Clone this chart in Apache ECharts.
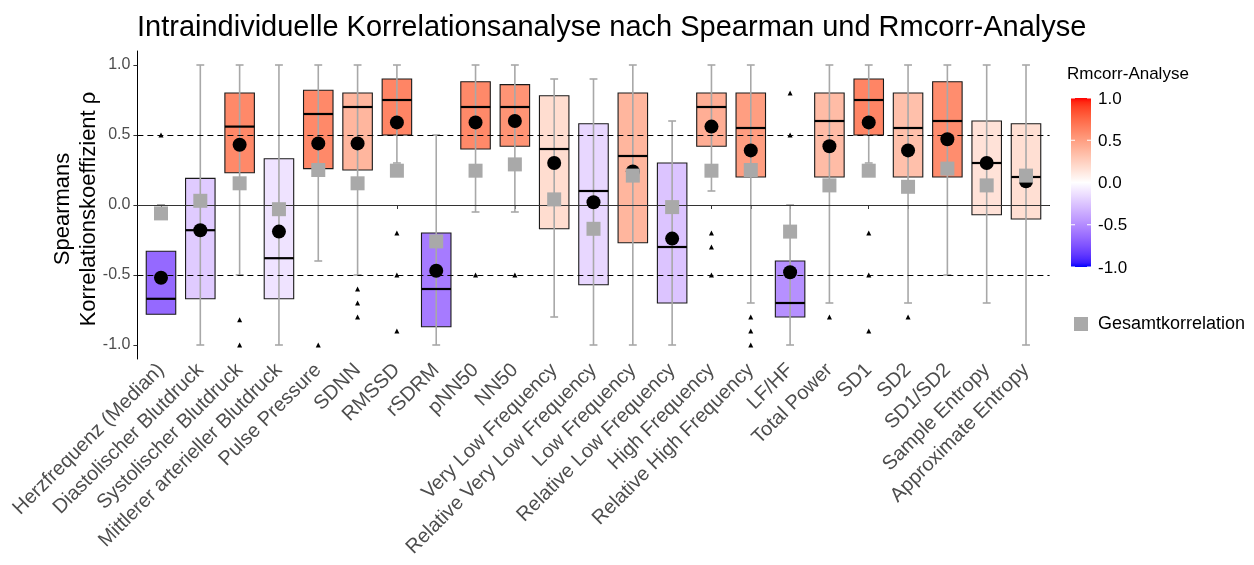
<!DOCTYPE html>
<html><head><meta charset="utf-8">
<script src="https://cdn.jsdelivr.net/npm/echarts@6/dist/echarts.min.js"></script>
<style>html,body{margin:0;padding:0;background:#fff}#c{width:1254px;height:565px}</style>
</head><body><div id="c"></div>
<script>
const categories = ["Herzfrequenz (Median)","Diastolischer Blutdruck","Systolischer Blutdruck","Mittlerer arterieller Blutdruck","Pulse Pressure","SDNN","RMSSD","rSDRM","pNN50","NN50","Very Low Frequency","Relative Very Low Frequency","Low Frequency","Relative Low Frequency","High Frequency","Relative High Frequency","LF/HF","Total Power","SD1","SD2","SD1/SD2","Sample Entropy","Approximate Entropy"];
const whiskerLow  = [0.0,-1.0,-0.5,-1.0,-0.4,-0.5,0.3,-1.0,-0.05,-0.05,-0.8,-1.0,-1.0,-1.0,0.1,-0.7,-1.0,-0.7,0.3,-0.7,-0.5,-0.7,-1.0];
const q1          = [-0.78,-0.67,0.23,-0.67,0.26,0.25,0.5,-0.87,0.4,0.42,-0.17,-0.57,-0.27,-0.7,0.42,0.2,-0.8,0.2,0.5,0.2,0.2,-0.07,-0.1];
const medians     = [-0.67,-0.18,0.56,-0.38,0.65,0.7,0.75,-0.6,0.7,0.7,0.4,0.1,0.35,-0.3,0.7,0.55,-0.7,0.6,0.75,0.55,0.6,0.3,0.2];
const q3          = [-0.33,0.19,0.8,0.33,0.82,0.8,0.9,-0.2,0.88,0.86,0.78,0.58,0.8,0.3,0.8,0.8,-0.4,0.8,0.9,0.8,0.88,0.6,0.58];
const whiskerHigh = [0.0,1,1,1,1,1,1,0.5,1,1,0.9,0.9,1,0.6,1,1,0.0,1,1,1,1,1,1];
const means       = [-0.52,-0.18,0.43,-0.19,0.44,0.44,0.59,-0.47,0.59,0.6,0.3,0.02,0.24,-0.24,0.56,0.39,-0.48,0.42,0.59,0.39,0.47,0.3,0.17];
const gesamt      = [-0.06,0.03,0.155,-0.03,0.25,0.155,0.245,-0.26,0.245,0.29,0.04,-0.17,0.21,-0.015,0.245,0.25,-0.19,0.14,0.245,0.13,0.26,0.14,0.21];
const rmcorr      = [-0.65,-0.22,0.6,-0.12,0.6,0.38,0.62,-0.57,0.6,0.55,0.18,-0.17,0.38,-0.25,0.42,0.5,-0.48,0.35,0.62,0.33,0.58,0.15,0.17];
const outliers    = [[1,0.5],[3,-0.82],[3,-1.0],[5,-1.0],[6,-0.6],[6,-0.7],[6,-0.8],[7,-0.2],[7,-0.5],[7,-0.9],[9,-0.5],[10,-0.5],[15,-0.2],[15,-0.3],[15,-0.5],[16,-0.8],[16,-0.9],[16,-1.0],[17,0.8],[17,0.5],[18,-0.8],[19,-0.2],[19,-0.5],[19,-0.9],[20,-0.8]];
const yTicks = [-1.0,-0.5,0.0,0.5,1.0];
const legendTicks = [1.0,0.5,0.0,-0.5,-1.0];

// CIELAB interpolation (blue - white - red)
function toLin(c){c/=255;return c<=0.04045?c/12.92:Math.pow((c+0.055)/1.055,2.4);}
function fromLin(c){c=Math.max(0,Math.min(1,c));return Math.round(255*(c<=0.0031308?12.92*c:1.055*Math.pow(c,1/2.4)-0.055));}
function rgb2lab(r,g,b){const R=toLin(r),G=toLin(g),B=toLin(b);
 const X=(0.4124*R+0.3576*G+0.1805*B)/0.95047,Y=0.2126*R+0.7152*G+0.0722*B,Z=(0.0193*R+0.1192*G+0.9505*B)/1.08883;
 const f=t=>t>0.008856?Math.cbrt(t):7.787*t+16/116;const fx=f(X),fy=f(Y),fz=f(Z);
 return [116*fy-16,500*(fx-fy),200*(fy-fz)];}
function lab2rgb(L,a,b){const fy=(L+16)/116,fx=fy+a/500,fz=fy-b/200;
 const fi=t=>t>0.206893?t*t*t:(t-16/116)/7.787;
 const X=fi(fx)*0.95047,Y=fi(fy),Z=fi(fz)*1.08883;
 const R=3.2406*X-1.5372*Y-0.4986*Z,G=-0.9689*X+1.8758*Y+0.0415*Z,B=0.0557*X-0.2040*Y+1.0570*Z;
 return 'rgb('+fromLin(R)+','+fromLin(G)+','+fromLin(B)+')';}
const LAB_BLUE=rgb2lab(0,0,255),LAB_WHITE=rgb2lab(255,255,255),LAB_RED=rgb2lab(255,0,0);
function fillColor(v){v=Math.max(-1,Math.min(1,v));const end=v<0?LAB_BLUE:LAB_RED;const t=Math.abs(v);
 return lab2rgb(LAB_WHITE[0]+(end[0]-LAB_WHITE[0])*t,LAB_WHITE[1]+(end[1]-LAB_WHITE[1])*t,LAB_WHITE[2]+(end[2]-LAB_WHITE[2])*t);}

const FONT='"Liberation Sans", Arial, sans-serif';
const xIdx = categories.map((c,i)=>i+1);
const boxData = categories.map((c,i)=>[i+1,whiskerLow[i],q1[i],medians[i],q3[i],whiskerHigh[i],rmcorr[i]]);

const chart = echarts.init(document.getElementById('c'),null,{renderer:'canvas'});
const gradStops=[];for(let k=0;k<=40;k++){const v=1-k/20;gradStops.push({offset:k/40,color:fillColor(v)});}
const cbTop=98, cbH=169, cbX=1071, cbW=20;
const graphics=[
 {type:'text',x:63,y:209,rotation:Math.PI/2,style:{text:'Spearmans',font:'22px '+FONT,fill:'#000',align:'center',verticalAlign:'middle'}},
 {type:'text',x:89,y:209,rotation:Math.PI/2,style:{text:'Korrelationskoeffizient ρ',font:'22px '+FONT,fill:'#000',align:'center',verticalAlign:'middle'}},
 {type:'text',x:1067,y:74,style:{text:'Rmcorr-Analyse',font:'17px '+FONT,fill:'#000',align:'left',verticalAlign:'middle'}},
 {type:'rect',shape:{x:cbX,y:cbTop,width:cbW,height:cbH},style:{fill:new echarts.graphic.LinearGradient(0,0,0,1,gradStops)}}
];
legendTicks.forEach(v=>{const y=cbTop+(1-v)/2*cbH;
 graphics.push({type:'text',x:1098,y:y+1,style:{text:v.toFixed(1),font:'17px '+FONT,fill:'#000',align:'left',verticalAlign:'middle'}});
 graphics.push({type:'line',shape:{x1:cbX,y1:y,x2:cbX+4,y2:y},style:{stroke:'#fff',lineWidth:1}});
 graphics.push({type:'line',shape:{x1:cbX+cbW-4,y1:y,x2:cbX+cbW,y2:y},style:{stroke:'#fff',lineWidth:1}});
});

chart.setOption({
 animation:false,
 title:{text:'Intraindividuelle Korrelationsanalyse nach Spearman und Rmcorr-Analyse',left:132,top:8,textStyle:{fontFamily:FONT,fontSize:29,fontWeight:'normal',color:'#000'}},
 grid:{left:137.4,right:204.4,top:51,bottom:206,outerBoundsMode:'none',containLabel:false},
 legend:{data:['Gesamtkorrelation'],left:1069,top:310,icon:'rect',itemWidth:14,itemHeight:14,itemGap:10,textStyle:{fontFamily:FONT,fontSize:18,color:'#000',padding:[0,0,0,5]}},
 xAxis:{type:'value',min:0.4,max:23.6,splitLine:{show:false},
  axisLine:{show:true,lineStyle:{color:'#000',width:1}},
  axisTick:{show:true,customValues:xIdx,length:4,lineStyle:{color:'#333'}},
  axisLabel:{customValues:xIdx,rotate:45,margin:8,fontFamily:FONT,fontSize:20,color:'#4D4D4D',formatter:v=>categories[Math.round(v)-1]}},
 yAxis:{type:'value',min:-1.1,max:1.1,splitLine:{show:false},
  axisLine:{show:true,lineStyle:{color:'#000',width:1}},
  axisTick:{show:true,customValues:yTicks,length:4,lineStyle:{color:'#333'}},
  axisLabel:{customValues:yTicks,margin:7,fontFamily:FONT,fontSize:16,color:'#4D4D4D',formatter:v=>v.toFixed(1)}},
 graphic:graphics,
 series:[
  {type:'custom',name:'box',z:2,data:boxData,encode:{x:0,y:[1,2,3,4,5]},
   renderItem:function(params,api){
    const x=api.value(0);
    const pLo=api.coord([x,api.value(1)]),pQ1=api.coord([x,api.value(2)]),pMed=api.coord([x,api.value(3)]),
          pQ3=api.coord([x,api.value(4)]),pHi=api.coord([x,api.value(5)]);
    const bw=api.size([0.75,0])[0], cw=api.size([0.2,0])[0];
    const cx=pLo[0];
    return {type:'group',children:[
     {type:'rect',shape:{x:cx-bw/2,y:pQ3[1],width:bw,height:pQ1[1]-pQ3[1]},style:{fill:fillColor(api.value(6)),stroke:'#1a1a1a',lineWidth:1.1}},
     {type:'line',shape:{x1:cx,y1:pLo[1],x2:cx,y2:pHi[1]},style:{stroke:'#A8A8A8',lineWidth:1.6}},
     {type:'line',shape:{x1:cx-cw/2,y1:pLo[1],x2:cx+cw/2,y2:pLo[1]},style:{stroke:'#A8A8A8',lineWidth:1.6}},
     {type:'line',shape:{x1:cx-cw/2,y1:pHi[1],x2:cx+cw/2,y2:pHi[1]},style:{stroke:'#A8A8A8',lineWidth:1.6}},
     {type:'line',shape:{x1:cx-bw/2,y1:pMed[1],x2:cx+bw/2,y2:pMed[1]},style:{stroke:'#000',lineWidth:2.2}}
    ]};
   }},
  {type:'scatter',name:'ref',z:3,data:[],silent:true,
   markLine:{silent:true,symbol:'none',label:{show:false},animation:false,
    data:[{yAxis:0.5,lineStyle:{type:[6,4],color:'#000',width:1}},{yAxis:-0.5,lineStyle:{type:[6,4],color:'#000',width:1}},{yAxis:0,lineStyle:{type:'solid',color:'#333',width:1.1}}]}},
  {type:'scatter',name:'Ausreißer',z:4,symbol:'triangle',symbolSize:5,itemStyle:{color:'#000',opacity:1},data:outliers,silent:true},
  {type:'scatter',name:'Mittelwert',z:5,symbol:'circle',symbolSize:14,itemStyle:{color:'#000',opacity:1},data:means.map((v,i)=>[i+1,v]),silent:true},
  {type:'scatter',name:'Gesamtkorrelation',z:6,symbol:'rect',symbolSize:14,itemStyle:{color:'#A9A9A9',opacity:1},data:gesamt.map((v,i)=>[i+1,v]),silent:true}
 ]
});
</script></body></html>
